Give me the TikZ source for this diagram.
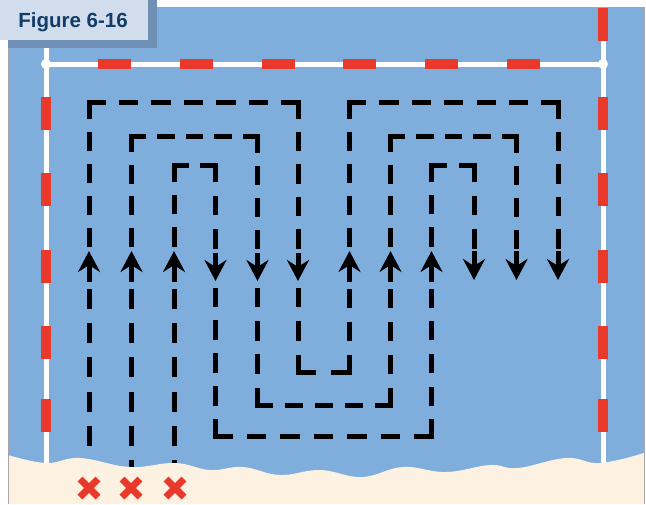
\documentclass[tikz,border=0pt]{standalone}
\usepackage{fontspec}
\setmainfont{Liberation Sans}
\usetikzlibrary{arrows.meta}
\definecolor{water}{HTML}{7FAEDD}
\definecolor{sand}{HTML}{FDF1E1}
\definecolor{buoyred}{HTML}{E8392A}
\definecolor{titlebg}{HTML}{D1DDEC}
\definecolor{titleshade}{HTML}{6F8FB4}
\definecolor{titleink}{HTML}{123C69}
\tikzset{
  rope/.style={line width=5pt, color=white},
  buoy/.style={line width=10pt, color=buoyred},
  lane/.style={line width=5pt, line cap=rect, color=black},
  flow/.style={-{Stealth[length=21pt, width=22pt, inset=7pt]}, line width=5pt, color=black},
  start/.style={line width=7pt, color=buoyred},
  every node/.append style={font=\bfseries}
}
% one straight piece of a swim lane, dashes fitted so both ends are dashes
\newcommand{\laneseg}[4]{%
  \pgfmathsetmacro{\seglen}{abs(#3-#1)+abs(#4-#2)}%
  \pgfmathsetmacro{\segn}{max(1,round((\seglen+18)/32))}%
  \pgfmathsetmacro{\segs}{\seglen/(\segn*14+(\segn-1)*18)}%
  \pgfmathsetmacro{\segon}{14*\segs}%
  \pgfmathsetmacro{\segoff}{18*\segs}%
  \draw[lane, dash pattern=on \segon pt off \segoff pt] (#1,#2) -- (#3,#4);%
}

\begin{document}
\begin{tikzpicture}[x=1pt, y=-1pt]
\useasboundingbox (0,0) rectangle (646,504);
\fill[water] (8,7) rectangle (644,504);

% ropes
\draw[rope] (46,7) -- (46,470);
\draw[rope] (603,7) -- (603,470);
\draw[rope] (46,64) -- (603,64);
\foreach \y in {8,97,173,250,326,399} {
  \draw[buoy] (46,\y) -- (46,\y+33);
  \draw[buoy] (603,\y) -- (603,\y+33);
}
\foreach \x in {98,180,262,343,425,507}
  \draw[buoy] (\x,64) -- (\x+33,64);
\fill[white] (46,64) circle (5pt);
\fill[white] (603,64) circle (5pt);

% three nested lanes: up, across, down, across, up, across, down
\foreach \a/\b/\c/\d/\t/\u in {89/298/349.5/558/102/372, 131.5/257.5/390.5/516.5/136/405, 174/215.5/431.5/474/165/436} {
  \laneseg{\a}{478}{\a}{291}
  \draw[flow] (\a,282) -- (\a,251);
  \laneseg{\a}{244}{\a}{\t}
  \laneseg{\a}{\t}{\b}{\t}
  \laneseg{\b}{\t}{\b}{246}
  \draw[flow] (\b,253) -- (\b,281);
  \laneseg{\b}{290}{\b}{\u}
  \laneseg{\b}{\u}{\c}{\u}
  \laneseg{\c}{\u}{\c}{291}
  \draw[flow] (\c,282) -- (\c,251);
  \laneseg{\c}{244}{\c}{\t}
  \laneseg{\c}{\t}{\d}{\t}
  \laneseg{\d}{\t}{\d}{246}
  \draw[flow] (\d,251) -- (\d,280);
}

% beach
\fill[sand] (8,504) -- plot[smooth, tension=0.7] coordinates {(8,455) (46,463) (80,458) (130,467) (175,463) (210,470) (243,467) (280,475) (320,470) (362,477) (403,467) (446,472) (490,465) (518,468) (566,458) (600,463) (644,453)} -- (644,504) -- cycle;
\foreach \x in {89,131,175} {
  \draw[start] (\x-9,479) -- (\x+9,497);
  \draw[start] (\x-9,497) -- (\x+9,479);
}
\draw[black!35, line width=0.8pt] (8,504) -- (8,7) -- (644,7) -- (644,504);

% caption tab
\fill[titleshade] (8,0) rectangle (157,48);
\fill[titlebg] (0,0) rectangle (148,40);
\node[anchor=base, text=titleink, font=\fontsize{20.5}{24}\selectfont\bfseries] (caption) at (73,27) {Figure 6-16};
\end{tikzpicture}
\end{document}
